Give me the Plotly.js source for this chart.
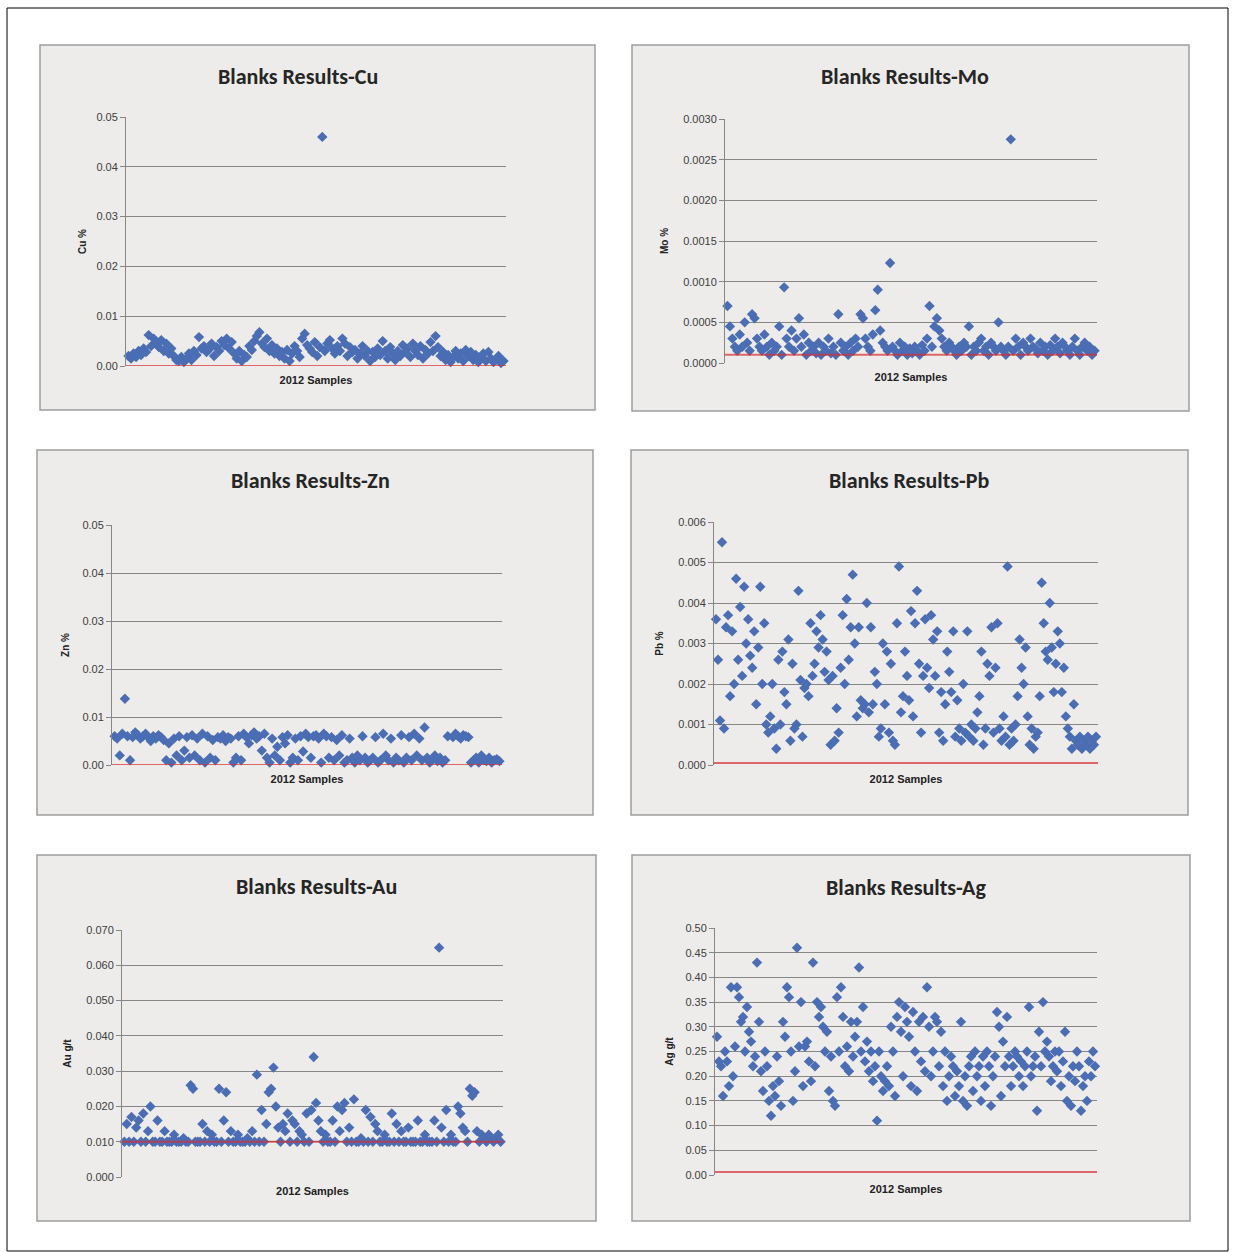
<!DOCTYPE html>
<html><head><meta charset="utf-8">
<script src="https://cdn.plot.ly/plotly-3.0.1.min.js"></script>
<style>html,body{margin:0;padding:0;background:#fff}#chart{width:1236px;height:1252px}</style>
</head><body><div id="chart"></div>
<script>
// ---------------- DATA ----------------
const cuValues = [
.0020,.0015,.0025,.0018,.0030,.0022,.0035,.0028,.0062,.0040,
.0055,.0048,.0038,.0052,.0030,.0045,.0025,.0035,.0020,.0012,
.0010,.0018,.0008,.0015,.0025,.0012,.0030,.0022,.0058,.0035,
.0040,.0028,.0033,.0045,.0020,.0038,.0030,.0050,.0042,.0055,
.0035,.0048,.0025,.0015,.0030,.0010,.0022,.0018,.0040,.0032,
.0050,.0060,.0068,.0045,.0038,.0055,.0030,.0042,.0025,.0035,
.0020,.0028,.0015,.0032,.0010,.0025,.0040,.0030,.0018,.0055,
.0065,.0042,.0035,.0028,.0048,.0020,.0038,.0460,.0030,.0045,
.0052,.0035,.0025,.0040,.0030,.0055,.0045,.0020,.0038,.0028,
.0032,.0015,.0025,.0040,.0020,.0030,.0010,.0028,.0018,.0035,
.0022,.0050,.0030,.0015,.0038,.0025,.0012,.0030,.0020,.0042,
.0028,.0035,.0018,.0045,.0030,.0022,.0040,.0015,.0032,.0025,
.0048,.0030,.0060,.0038,.0020,.0028,.0012,.0022,.0008,.0018,
.0030,.0015,.0025,.0010,.0032,.0020,.0028,.0012,.0022,.0008,
.0018,.0025,.0010,.0028,.0015,.0008,.0012,.0020,.0006,.0010];

const moValues = [
.0007,.00045,.0003,.0002,.00015,.00035,.0002,.0005,.00025,.00015,
.0006,.00055,.0003,.0002,.00015,.00035,.0002,.0001,.00025,.00015,
.0002,.00045,.0001,.00093,.0003,.0002,.0004,.00015,.0003,.00055,
.0002,.00035,.0001,.00025,.00015,.0002,.00012,.00025,.0001,.0002,
.00015,.0003,.00012,.0002,.0001,.0006,.00025,.00015,.0002,.0001,
.00025,.00015,.0003,.0002,.0006,.00055,.0003,.0002,.00015,.00035,
.00065,.0009,.0004,.00025,.0002,.00015,.00123,.0002,.00015,.0001,
.00025,.00015,.0002,.0001,.00018,.00012,.0002,.00015,.0001,.00022,
.00015,.0003,.0007,.0002,.00045,.00055,.0004,.0003,.0002,.00015,
.00025,.0002,.00015,.0001,.0002,.00015,.00025,.0002,.00045,.0001,
.0002,.00015,.00025,.0003,.00015,.0002,.0001,.00025,.0002,.00015,
.0005,.0002,.00015,.0001,.0002,.00275,.00015,.0003,.0002,.0001,
.00025,.0002,.00015,.0003,.0002,.00018,.00012,.00025,.00015,.0002,
.0001,.00022,.00015,.0003,.0002,.00012,.00025,.0002,.00015,.0001,
.0002,.0003,.00015,.0001,.0002,.00025,.00015,.0002,.0001,.00015];

const znValues = [
.006,.0055,.002,.0065,.0138,.006,.001,.0058,.0068,.0062,
.0055,.006,.0065,.0058,.005,.006,.0055,.0062,.0058,.0052,
.001,.0045,.0005,.0055,.002,.006,.001,.003,.0058,.0015,
.0062,.002,.0055,.001,.0065,.0005,.006,.0015,.0052,.001,
.0058,.0055,.0062,.005,.0058,.0055,.0005,.0015,.006,.001,
.0065,.0058,.0045,.0062,.0068,.0055,.006,.003,.0065,.0015,
.0005,.0055,.002,.0038,.001,.0058,.0045,.0062,.0005,.0015,
.0055,.001,.006,.0028,.0065,.0058,.0015,.006,.0062,.0055,
.0005,.0065,.006,.0015,.0058,.001,.0052,.002,.0062,.0005,
.001,.0055,.0015,.0005,.002,.001,.006,.0015,.0005,.001,
.0015,.0058,.0005,.001,.0065,.002,.001,.0055,.0005,.0015,
.001,.0062,.0005,.0015,.0058,.001,.0065,.002,.0055,.001,
.0078,.0015,.0005,.001,.002,.0008,.0015,.0005,.001,.006,
.051,.0058,.0065,.006,.0055,.0062,.006,.0058,.0005,.001,
.0015,.0005,.002,.001,.0008,.0015,.0005,.001,.0012,.0008];

const pbValues = [
.0036,.0026,.0011,.0055,.0009, .0034,.0037,.0017,.0033,.0020,
.0046,.0026,.0039,.0022,.0044, .0030,.0036,.0027,.0024,.0033,
.0015,.0029,.0044,.0020,.0035, .0010,.0008,.0012,.0020,.0009,
.0004,.0026,.0010,.0028,.0018, .0015,.0031,.0006,.0025,.0009,
.0010,.0043,.0021,.0007,.0019, .0020,.0017,.0035,.0022,.0025,
.0033,.0029,.0037,.0031,.0023, .0028,.0021,.0005,.0022,.0006,
.0014,.0008,.0024,.0037,.0020, .0041,.0026,.0034,.0047,.0030,
.0012,.0034,.0016,.0014,.0015, .0040,.0013,.0034,.0015,.0023,
.0020,.0007,.0009,.0030,.0015, .0028,.0008,.0025,.0006,.0005,
.0035,.0049,.0013,.0017,.0028, .0022,.0016,.0038,.0012,.0035,
.0043,.0025,.0008,.0022,.0036, .0024,.0019,.0037,.0031,.0022,
.0033,.0008,.0018,.0006,.0015, .0028,.0023,.0018,.0033,.0007,
.0016,.0009,.0006,.0020,.0008, .0033,.0007,.0010,.0006,.0009,
.0013,.0017,.0028,.0005,.0009, .0025,.0022,.0034,.0008,.0024,
.0035,.0009,.0006,.0012,.0007, .0049,.0005,.0009,.0006,.0010,
.0017,.0031,.0024,.0020,.0029, .0012,.0005,.0009,.0004,.0007,
.0008,.0017,.0045,.0035,.0028, .0026,.0040,.0029,.0018,.0025,
.0033,.0030,.0018,.0024,.0012, .0009,.0007,.0004,.0015,.0006,
.0005,.0007,.0004,.0006,.0005, .0007,.0004,.0006,.0005,.0007];

const auValues = [
.010,.015,.010,.017,.010,.014,.016,.010,.018,.010,
.013,.020,.010,.010,.016,.010,.010,.013,.010,.010,
.010,.012,.010,.010,.010,.011,.010,.010,.026,.025,
.010,.010,.010,.015,.010,.013,.010,.012,.010,.010,
.025,.010,.016,.024,.010,.013,.010,.010,.012,.010,
.010,.010,.011,.010,.013,.010,.029,.010,.019,.010,
.015,.024,.025,.031,.020,.014,.010,.015,.013,.018,
.010,.016,.015,.010,.013,.012,.010,.018,.010,.019,
.034,.021,.016,.013,.010,.012,.010,.010,.016,.010,
.020,.013,.019,.021,.010,.014,.010,.022,.010,.010,
.011,.010,.019,.010,.017,.010,.015,.013,.010,.010,
.012,.010,.010,.018,.010,.015,.010,.013,.010,.010,
.014,.010,.010,.010,.016,.010,.010,.012,.010,.010,
.010,.016,.010,.065,.014,.010,.019,.010,.012,.010,
.010,.020,.018,.014,.013,.010,.025,.023,.024,.013,
.010,.012,.011,.010,.012,.011,.010,.011,.012,.010];

const agValues = [
.28,.23,.22,.16,.25, .23,.18,.38,.20,.26, .38,.36,.31,.32,.25, .34,.29,.27,.22,.24,
.43,.31,.21,.17,.25, .22,.15,.12,.18,.16, .24,.19,.14,.31,.28, .38,.36,.25,.15,.21,
.46,.26,.35,.18,.26, .27,.23,.19,.43,.22, .35,.32,.34,.30,.25, .29,.17,.24,.15,.14,
.36,.25,.38,.32,.22, .26,.21,.31,.24,.28, .31,.42,.25,.34,.23, .27,.21,.25,.19,.22,
.11,.25,.20,.17,.19, .22,.18,.30,.25,.16, .32,.35,.29,.20,.34, .31,.28,.18,.33,.25,
.17,.31,.23,.32,.21, .38,.30,.20,.25,.32, .31,.22,.29,.18,.25, .15,.20,.24,.22,.16,
.21,.18,.31,.15,.20, .14,.22,.24,.17,.25, .20,.22,.15,.24,.18, .25,.22,.14,.20,.24,
.33,.30,.16,.27,.22, .32,.24,.18,.22,.25, .24,.20,.23,.18,.22, .25,.34,.20,.22,.24,
.13,.29,.22,.35,.25, .27,.24,.19,.22,.25, .21,.25,.18,.23,.29, .15,.20,.14,.22,.19,
.25,.22,.13,.18,.20, .15,.23,.20,.25,.22];

// detection-limit (red) lines
const cuLimit = 0;
const moLimit = 0.0001;
const znLimit = 0;
const pbLimit = 0.00005;
const auLimit = 0.010;
const agLimit = 0.006;

// tick labels
const cuTicks = ['0.00','0.01','0.02','0.03','0.04','0.05'];
const moTicks = ['0.0000','0.0005','0.0010','0.0015','0.0020','0.0025','0.0030'];
const znTicks = ['0.00','0.01','0.02','0.03','0.04','0.05'];
const pbTicks = ['0.000','0.001','0.002','0.003','0.004','0.005','0.006'];
const auTicks = ['0.000','0.010','0.020','0.030','0.040','0.050','0.060','0.070'];
const agTicks = ['0.00','0.05','0.10','0.15','0.20','0.25','0.30','0.35','0.40','0.45','0.50'];

const titles = ['Blanks Results-Cu','Blanks Results-Mo','Blanks Results-Zn','Blanks Results-Pb','Blanks Results-Au','Blanks Results-Ag'];
const yTitles = ['Cu %','Mo %','Zn %','Pb %','Au g/t','Ag g/t'];
const xTitle = '2012 Samples';

// ---------------- LAYOUT GEOMETRY (pixels) ----------------
const W = 1236, H = 1252;
const panels = [
  {values: cuValues, limit: cuLimit, ticks: cuTicks, plot:[126,117,506,366], box:[40,45,595,410],  tx:298, ty:76,  stand:7},
  {values: moValues, limit: moLimit, ticks: moTicks, plot:[725,119,1097,363], box:[632,45,1189,411], tx:905, ty:77,  stand:12},
  {values: znValues, limit: znLimit, ticks: znTicks, plot:[112,525,502,765], box:[37,450,593,815],  tx:310, ty:481, stand:10},
  {values: pbValues, limit: pbLimit, ticks: pbTicks, plot:[714,522,1098,765], box:[631,450,1188,815], tx:909, ty:481, stand:12},
  {values: auValues, limit: auLimit, ticks: auTicks, plot:[122,930,503,1177], box:[37,855,596,1221], tx:316, ty:886, stand:12},
  {values: agValues, limit: agLimit, ticks: agTicks, plot:[715,928,1097,1175], box:[632,855,1190,1221], tx:906, ty:887, stand:9}
];
const fx = x => x / W;
const fy = y => 1 - y / H;

const FONT = '"Liberation Sans Narrow", "Arial Narrow", "Liberation Sans", Arial, sans-serif';
const TFONT = 'Carlito, Calibri, Lato, "Liberation Sans", sans-serif';
const BLUE = '#4a6db4';
const GRID = '#868686';

const data = [];
const layout = {
  width: W, height: H,
  margin: {l:0, r:0, t:0, b:0},
  paper_bgcolor: '#ffffff',
  plot_bgcolor: '#ffffff',
  showlegend: false,
  shapes: [],
  annotations: []
};

// outer frame
layout.shapes.push({type:'rect', xref:'paper', yref:'paper', x0:fx(7), x1:fx(1228), y0:fy(1251), y1:fy(8),
  line:{color:'#000000', width:1}, layer:'below'});

panels.forEach((p, i) => {
  const n = i + 1;
  const xa = n === 1 ? 'xaxis' : 'xaxis' + n;
  const ya = n === 1 ? 'yaxis' : 'yaxis' + n;
  const xr = n === 1 ? 'x' : 'x' + n;
  const yr = n === 1 ? 'y' : 'y' + n;
  const N = p.values.length;
  const idx = p.values.map((_, k) => k + 1);
  const tickVals = p.ticks.map(t => parseFloat(t));
  const yMax = tickVals[tickVals.length - 1];

  // panel background
  layout.shapes.push({type:'rect', xref:'paper', yref:'paper',
    x0:fx(p.box[0]), x1:fx(p.box[2]), y0:fy(p.box[3]), y1:fy(p.box[1]),
    fillcolor:'#edecea', line:{color:'#9d9d9d', width:1.5}, layer:'below'});

  data.push({
    type:'scatter', mode:'markers', x: idx, y: p.values, xaxis: xr, yaxis: yr,
    marker:{symbol:'diamond', size:8, color: BLUE, line:{width:0}},
    cliponaxis:false, hoverinfo:'y'
  });
  data.push({
    type:'scatter', mode:'lines', x:[0, N + 1], y:[p.limit, p.limit], xaxis: xr, yaxis: yr,
    line:{color:'rgba(215,45,50,0.7)', width:2}, hoverinfo:'skip'
  });

  layout[xa] = {
    domain:[fx(p.plot[0]), fx(p.plot[2])], anchor: yr,
    range:[0, N + 1], showticklabels:false, showgrid:false, zeroline:false, showline:false, ticks:'',
    fixedrange:true,
    title:{text:'<b>' + xTitle + '</b>', font:{family: FONT, size:11, color:'#222'}, standoff:10}
  };
  layout[ya] = {
    domain:[fy(p.plot[3]), fy(p.plot[1])], anchor: xr,
    range:[0, yMax], tickvals: tickVals, ticktext: p.ticks,
    showgrid:true, gridcolor: GRID, gridwidth:1,
    showline:true, linecolor: GRID, linewidth:1,
    ticks:'outside', ticklen:5, tickcolor: GRID, tickwidth:1,
    zeroline:false, fixedrange:true,
    tickfont:{family: FONT, size:11, color:'#404040'},
    title:{text:'<b>' + yTitles[i] + '</b>', font:{family: FONT, size:10, color:'#222'}, standoff:p.stand}
  };

  layout.annotations.push({
    xref:'paper', yref:'paper', x:fx(p.tx), y:fy(p.ty), xanchor:'center', yanchor:'middle',
    showarrow:false, text:'<b>' + titles[i] + '</b>',
    font:{family: TFONT, size:22, color:'#262626'}
  });
});

Plotly.newPlot('chart', data, layout, {displayModeBar:false, staticPlot:true});
</script>
</body></html>
